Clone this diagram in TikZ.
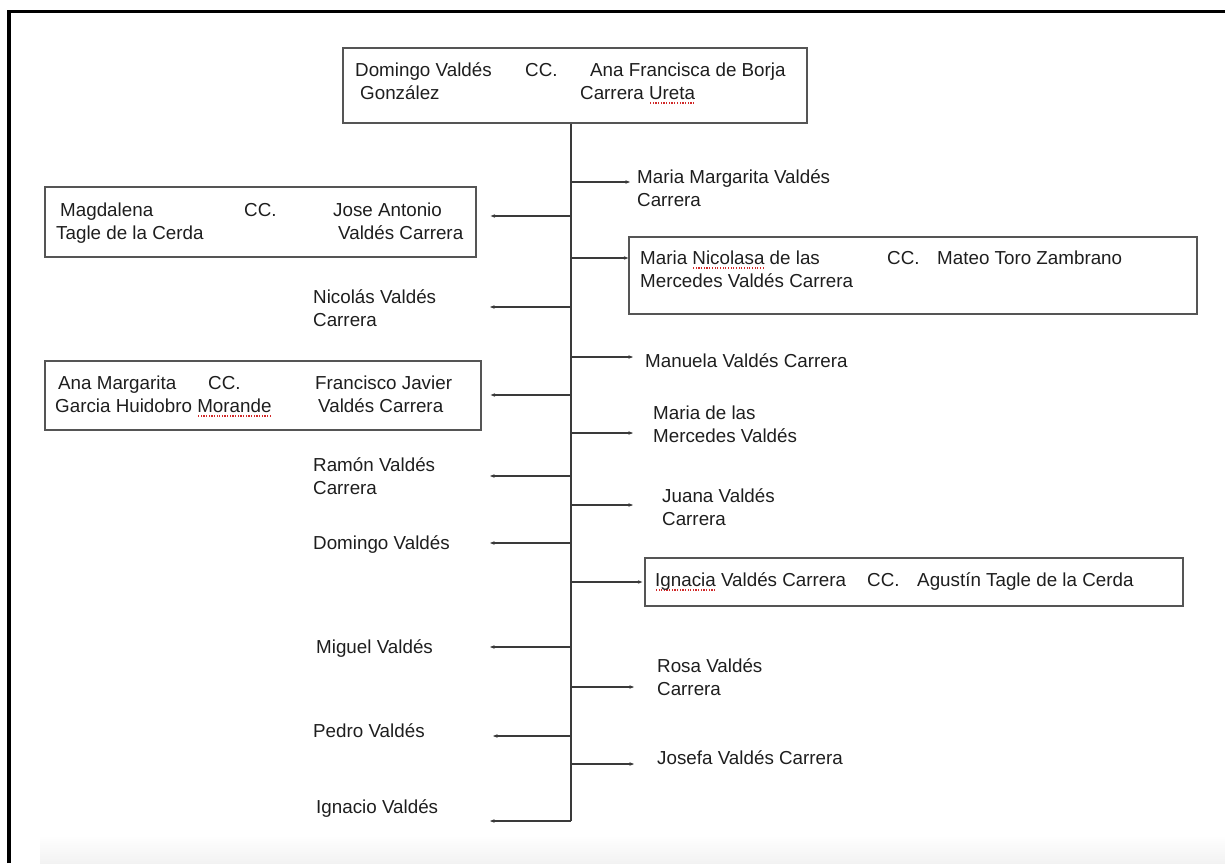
\documentclass[tikz,border=0pt]{standalone}
\usepackage{fontspec}
\setmainfont{Liberation Sans}
\usetikzlibrary{arrows.meta}

\definecolor{ink}{HTML}{1E1E1E}
\definecolor{wire}{HTML}{3A3A3A}
\definecolor{boxline}{HTML}{555555}
\definecolor{spell}{HTML}{D02828}

% red dotted underline of a flagged word
\newsavebox\spbox
\newcommand\sperr[1]{\sbox\spbox{#1}\rlap{\raisebox{-3.8pt}[0pt][0pt]{\color{spell}\hbox to \wd\spbox{\xleaders\hbox to 2.6pt{\hss\rule{1.3pt}{1.3pt}\hss}\hfill}}}#1}

\begin{document}
\begin{tikzpicture}[x=1pt,y=-1pt,
  lbl/.style={anchor=west, inner sep=0pt, align=left, text=ink,
              font=\fontsize{18.8}{23}\selectfont},
  famBox/.style={draw=boxline, line width=1.3pt, inner sep=0pt, rectangle},
  wireline/.style={draw=wire, line width=1.1pt},
  link/.style={wireline, -{Stealth[length=4.5pt,width=3.5pt]}},
]
\useasboundingbox (0,0) rectangle (1225,863);

% faint shade along the lower edge and the heavy outer frame
\shade[top color=white, bottom color=black!5] (40,835) rectangle (1225,863);
\draw[line width=3.5pt, black] (9,863) -- (9,11.5) -- (1225,11.5);

% ---------- parents ----------
\node[famBox, minimum width=464pt, minimum height=75pt] (parents) at (575,85.5) {};
\node[lbl] (pA) at (355,83.7) {\strut Domingo Valdés\\\strut\hspace*{5pt}González};
\node[lbl] (pCC) at (525,72.2) {\strut CC.};
\node[lbl] (pB) at (580,83.7) {\strut\hspace*{10pt}Ana Francisca de Borja\\\strut Carrera \sperr{Ureta}};

% trunk
\coordinate (trunkBot) at (571,821);
\draw[wireline] (parents.south -| trunkBot) -- (trunkBot);

% ---------- right-hand children ----------
\coordinate (tipR1) at (630,182);
\node[lbl] (R1) at (637,190.2) {\strut Maria Margarita Valdés\\\strut Carrera};
\draw[link] (trunkBot |- tipR1) -- (tipR1);

\node[famBox, minimum width=568pt, minimum height=77pt] (nicolasa) at (913,275.5) {};
\node[lbl] (R2a) at (640,271.7) {\strut Maria \sperr{Nicolasa} de las\\\strut Mercedes Valdés Carrera};
\node[lbl] (R2cc) at (887,260.2) {\strut CC.};
\node[lbl] (R2b) at (937,260.2) {\strut Mateo Toro Zambrano};
\coordinate (yR2) at (0,258);
\draw[link] (trunkBot |- yR2) -- (yR2 -| nicolasa.west);

\coordinate (tipR3) at (633,357);
\node[lbl] (R3) at (645,363.2) {\strut Manuela Valdés Carrera};
\draw[link] (trunkBot |- tipR3) -- (tipR3);

\coordinate (tipR4) at (633,433);
\node[lbl] (R4) at (653,426.2) {\strut Maria de las\\\strut Mercedes Valdés};
\draw[link] (trunkBot |- tipR4) -- (tipR4);

\coordinate (tipR5) at (633,505);
\node[lbl] (R5) at (662,509.2) {\strut Juana Valdés\\\strut Carrera};
\draw[link] (trunkBot |- tipR5) -- (tipR5);

\node[famBox, minimum width=538pt, minimum height=48pt] (ignacia) at (914,582) {};
\node[lbl] (R6a) at (655,582.2) {\strut\sperr{Ignacia} Valdés Carrera};
\node[lbl] (R6cc) at (867,582.2) {\strut CC.};
\node[lbl] (R6b) at (917,582.2) {\strut Agustín Tagle de la Cerda};
\coordinate (yR6) at (0,582);
\draw[link, shorten >=2pt] (trunkBot |- yR6) -- (yR6 -| ignacia.west);

\coordinate (tipR7) at (634,687);
\node[lbl] (R7) at (657,679.7) {\strut Rosa Valdés\\\strut Carrera};
\draw[link] (trunkBot |- tipR7) -- (tipR7);

\coordinate (tipR8) at (634,764);
\node[lbl] (R8) at (657,760.2) {\strut Josefa Valdés Carrera};
\draw[link] (trunkBot |- tipR8) -- (tipR8);

% ---------- left-hand children ----------
\node[famBox, minimum width=431pt, minimum height=70pt] (magdalena) at (260.5,222) {};
\node[lbl] (L1a) at (56,223.2) {\strut\hspace*{4pt}Magdalena\\\strut Tagle de la Cerda};
\node[lbl] (L1cc) at (244,212.2) {\strut CC.};
\node[lbl] (L1b) at (333,223.2) {\strut Jose Antonio\\\strut\hspace*{5pt}Valdés Carrera};
\coordinate (yL1) at (0,216);
\draw[link, shorten >=14pt] (trunkBot |- yL1) -- (yL1 -| magdalena.east);

\coordinate (tipL2) at (490,307);
\node[lbl] (L2) at (313,310.2) {\strut Nicolás Valdés\\\strut Carrera};
\draw[link] (trunkBot |- tipL2) -- (tipL2);

\node[famBox, minimum width=436pt, minimum height=69pt] (anamarg) at (263,395.5) {};
\node[lbl] (L3a) at (55,396.7) {\strut\hspace*{3pt}Ana Margarita\\\strut Garcia Huidobro \sperr{Morande}};
\node[lbl] (L3cc) at (208,385.2) {\strut CC.};
\node[lbl] (L3b) at (315,396.7) {\strut Francisco Javier\\\strut\hspace*{3pt}Valdés Carrera};
\coordinate (yL3) at (0,395);
\draw[link, shorten >=9pt] (trunkBot |- yL3) -- (yL3 -| anamarg.east);

\coordinate (tipL4) at (490,476);
\node[lbl] (L4) at (313,478.7) {\strut Ramón Valdés\\\strut Carrera};
\draw[link] (trunkBot |- tipL4) -- (tipL4);

\coordinate (tipL5) at (490,543);
\node[lbl] (L5) at (313,545.2) {\strut Domingo Valdés};
\draw[link] (trunkBot |- tipL5) -- (tipL5);

\coordinate (tipL6) at (490,647);
\node[lbl] (L6) at (316,649.2) {\strut Miguel Valdés};
\draw[link] (trunkBot |- tipL6) -- (tipL6);

\coordinate (tipL7) at (493,736);
\node[lbl] (L7) at (313,733.2) {\strut Pedro Valdés};
\draw[link] (trunkBot |- tipL7) -- (tipL7);

\coordinate (tipL8) at (490,821);
\node[lbl] (L8) at (316,809.2) {\strut Ignacio Valdés};
\draw[link] (trunkBot |- tipL8) -- (tipL8);

\end{tikzpicture}
\end{document}
